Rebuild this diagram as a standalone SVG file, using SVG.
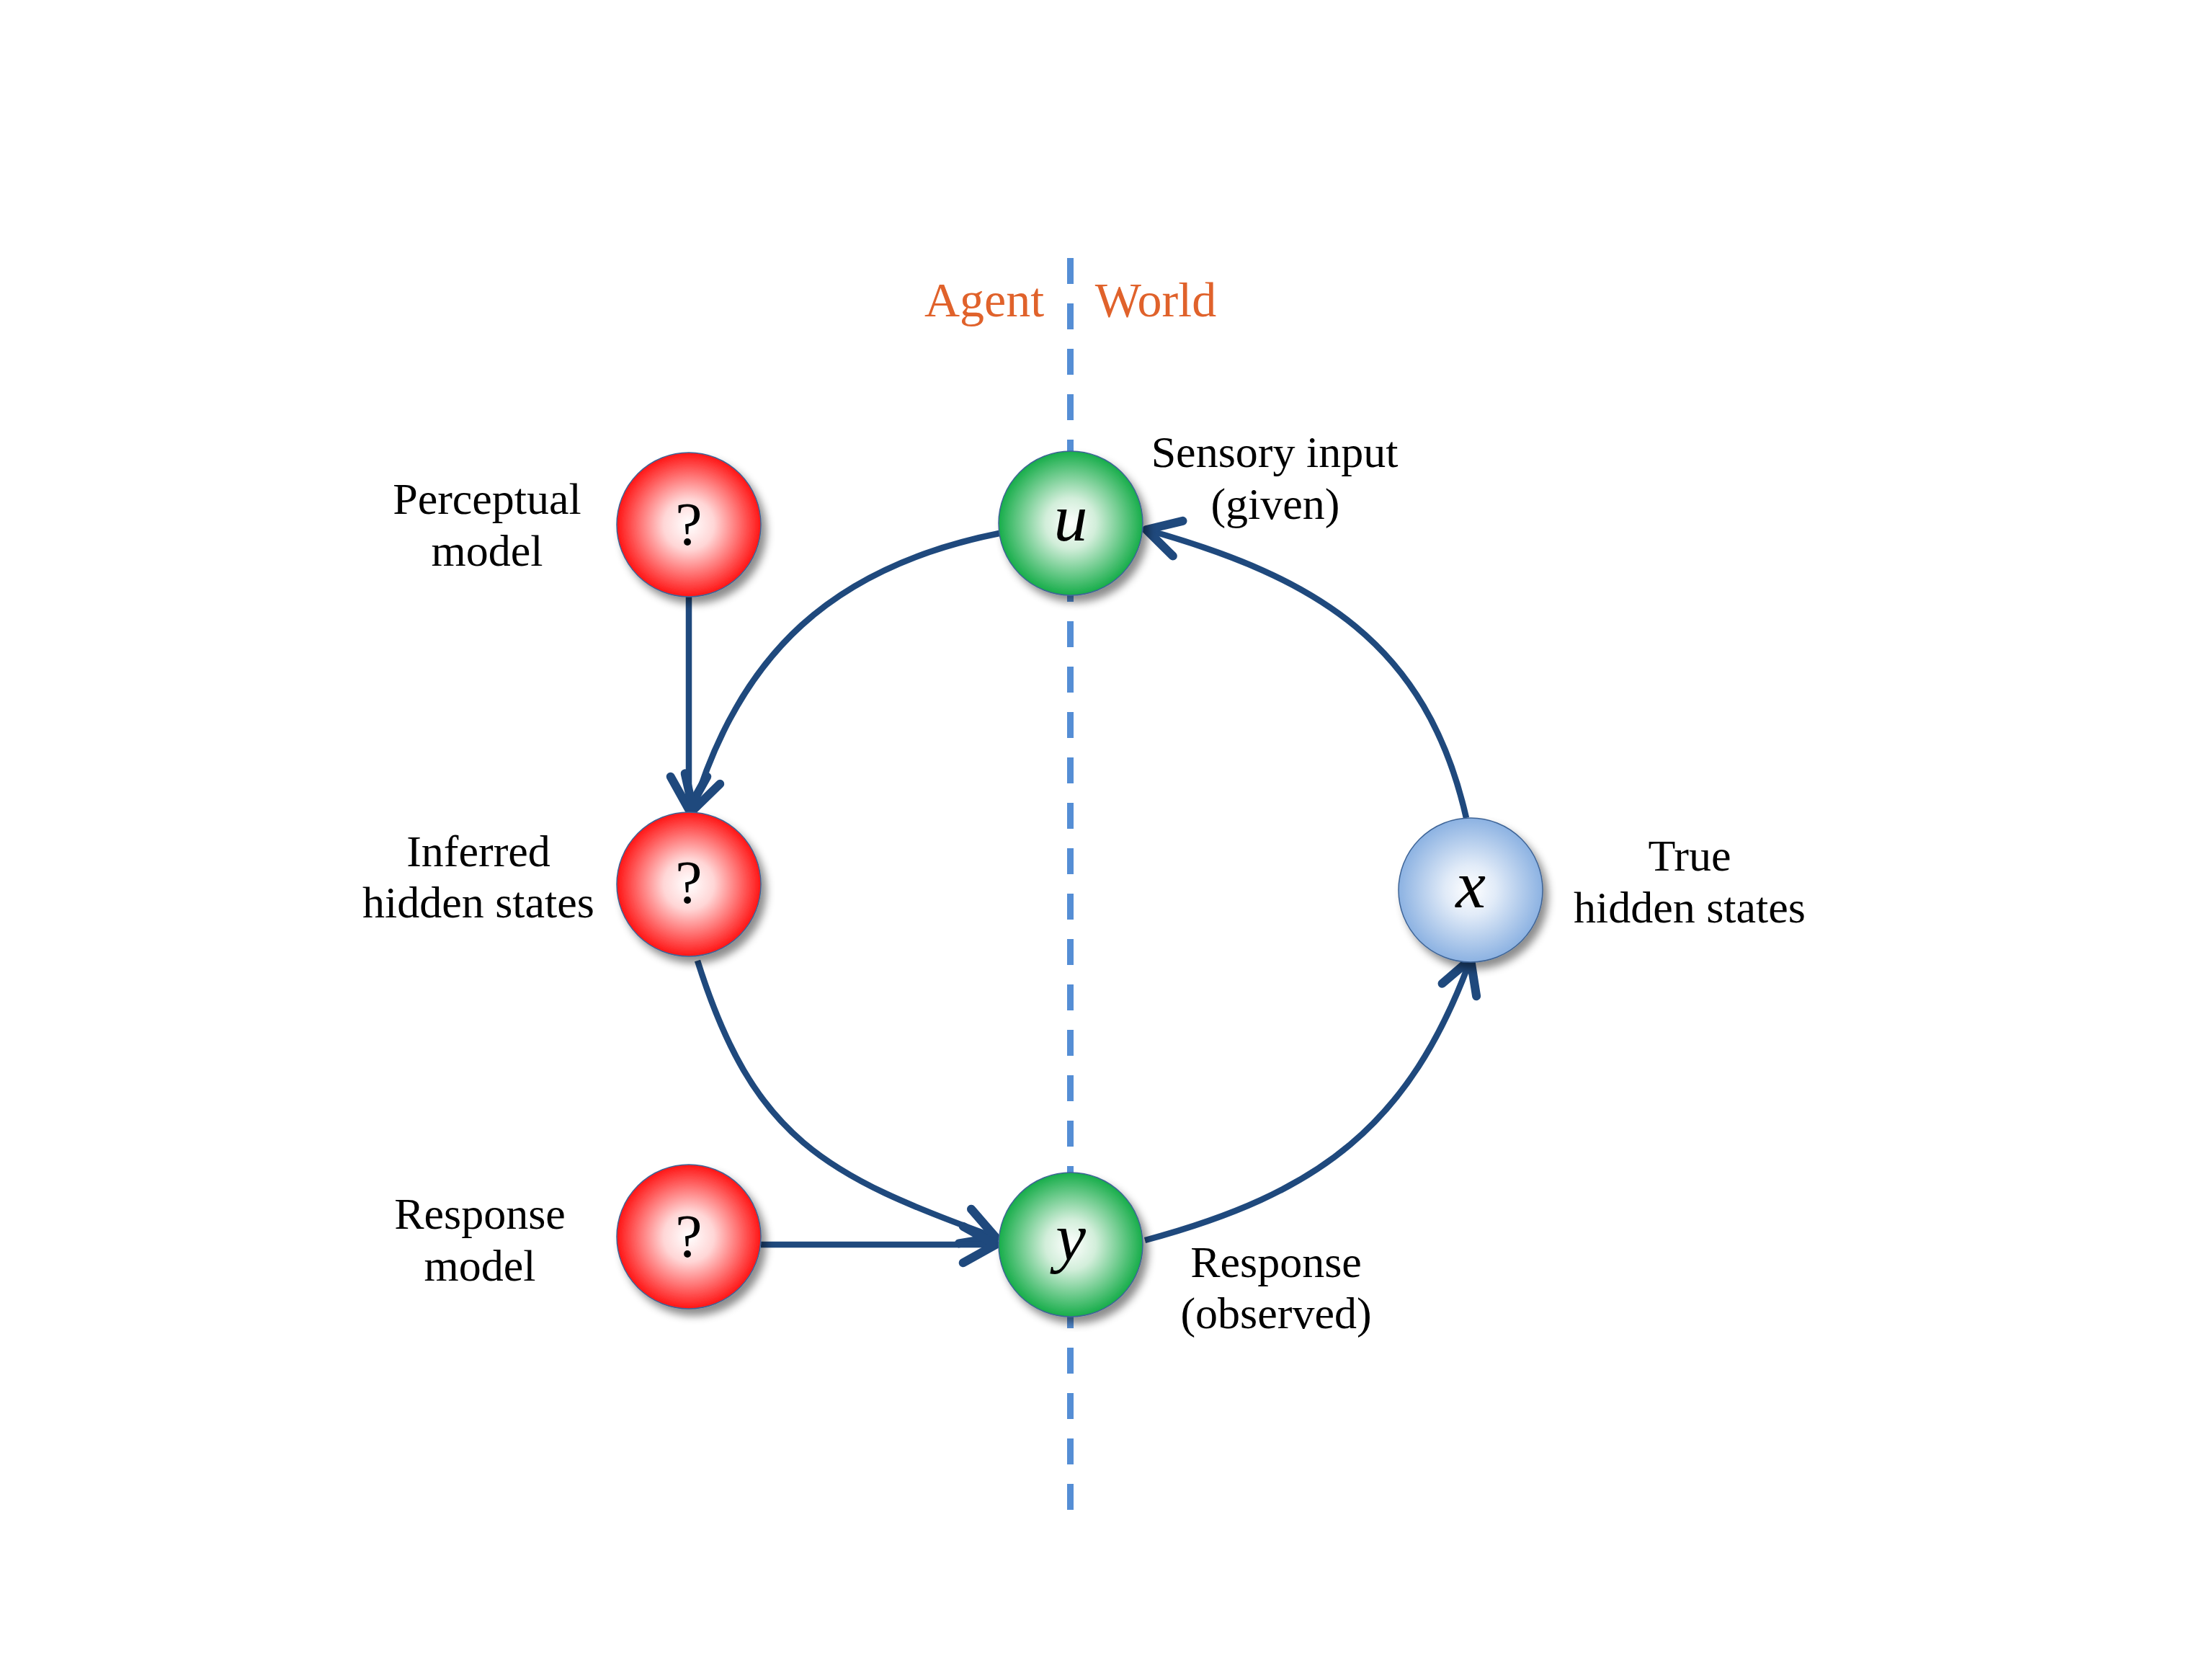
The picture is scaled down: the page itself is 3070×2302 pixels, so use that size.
<svg xmlns="http://www.w3.org/2000/svg" width="3070" height="2302" viewBox="0 0 3070 2302">
<style>
.lbl{font-family:"Liberation Serif","Times New Roman",serif;font-size:62px;fill:#000;text-anchor:middle}
.side{font-family:"Liberation Serif","Times New Roman",serif;font-size:68px;fill:#E0622B;text-anchor:middle}
.q{font-family:"Liberation Serif","Times New Roman",serif;font-size:84px;fill:#000;text-anchor:middle}
.var{font-family:"Liberation Serif","Times New Roman",serif;font-style:italic;font-size:94px;fill:#000;text-anchor:middle}
.node{stroke:#3E6496;stroke-width:1.5;filter:url(#shadow)}
.edge{fill:none;stroke:#1F497D;stroke-width:8.5;marker-end:url(#arr)}
</style>
<defs>
<radialGradient id="gRed" cx="50%" cy="50%" r="50%">
<stop offset="0" stop-color="#FFFFFF"/>
<stop offset="0.35" stop-color="#FFD6D6"/>
<stop offset="1" stop-color="#FF1515"/>
</radialGradient>
<radialGradient id="gGreen" cx="50%" cy="50%" r="50%">
<stop offset="0" stop-color="#FFFFFF"/>
<stop offset="0.35" stop-color="#D2EEDA"/>
<stop offset="1" stop-color="#17AD4A"/>
</radialGradient>
<radialGradient id="gBlue" cx="50%" cy="50%" r="50%">
<stop offset="0" stop-color="#FFFFFF"/>
<stop offset="0.35" stop-color="#E1EBF8"/>
<stop offset="1" stop-color="#8CB2E2"/>
</radialGradient>
<filter id="shadow" x="-30%" y="-30%" width="170%" height="170%">
<feDropShadow dx="7" dy="9" stdDeviation="6" flood-color="#000" flood-opacity="0.45"/>
</filter>
<marker id="arr" markerUnits="userSpaceOnUse" markerWidth="80" markerHeight="80" viewBox="-45 -30 60 60" refX="0" refY="0" orient="auto" overflow="visible">
<path d="M -34 -19 L 0 0 L -34 19" fill="none" stroke="#1F497D" stroke-width="9" stroke-linecap="round" stroke-linejoin="round"/>
</marker>
</defs>
<rect width="3070" height="2302" fill="#FFFFFF"/>

<g id="divider">
<line x1="1485.5" y1="358" x2="1485.5" y2="2095" stroke="#558ED5" stroke-width="9" stroke-dasharray="36 27"/>
<text class="side" x="1366" y="439">Agent</text>
<text class="side" x="1604" y="439">World</text>
</g>

<g id="connectors">
<path class="edge" d="M 956 828 L 956 1123"/>
<path class="edge" d="M 1387 740 C 1157 786 1027 906 962 1124"/>
<path class="edge" d="M 968 1333 C 1046 1580 1144 1631 1382 1717"/>
<path class="edge" d="M 1056 1727 L 1382 1727"/>
<path class="edge" d="M 1589 1721 C 1831 1656 1956 1562 2041 1331"/>
<path class="edge" d="M 2035 1135 C 1980 893 1827 801 1591 735"/>
</g>

<g id="node-perceptual">
<circle class="node" cx="956" cy="728" r="100" fill="url(#gRed)"/>
<text class="q" x="956" y="756">?</text>
<text class="lbl" x="676" y="713">Perceptual</text>
<text class="lbl" x="676" y="785">model</text>
</g>

<g id="node-inferred">
<circle class="node" cx="956" cy="1227" r="100" fill="url(#gRed)"/>
<text class="q" x="956" y="1253">?</text>
<text class="lbl" x="664" y="1202">Inferred</text>
<text class="lbl" x="664" y="1273">hidden states</text>
</g>

<g id="node-response">
<circle class="node" cx="956" cy="1716" r="100" fill="url(#gRed)"/>
<text class="q" x="956" y="1744">?</text>
<text class="lbl" x="666" y="1705">Response</text>
<text class="lbl" x="666" y="1777">model</text>
</g>

<g id="node-u">
<circle class="node" cx="1486" cy="726" r="100" fill="url(#gGreen)"/>
<text class="var" x="1486" y="750">u</text>
<text class="lbl" x="1769" y="648">Sensory input</text>
<text class="lbl" x="1770" y="720">(given)</text>
</g>

<g id="node-y">
<circle class="node" cx="1486" cy="1727" r="100" fill="url(#gGreen)"/>
<text class="var" x="1486" y="1748">y</text>
<text class="lbl" x="1771" y="1772">Response</text>
<text class="lbl" x="1771" y="1843">(observed)</text>
</g>

<g id="node-x">
<circle class="node" cx="2041" cy="1235" r="100" fill="url(#gBlue)"/>
<text class="var" x="2041" y="1259">x</text>
<text class="lbl" x="2345" y="1208">True</text>
<text class="lbl" x="2345" y="1280">hidden states</text>
</g>
</svg>
